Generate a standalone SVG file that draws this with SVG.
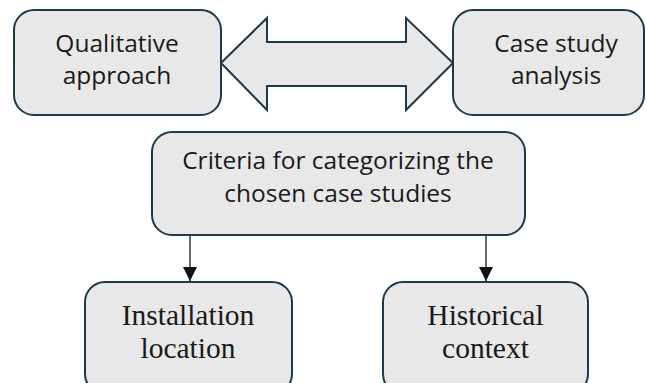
<svg xmlns="http://www.w3.org/2000/svg" width="646" height="383" viewBox="0 0 646 383">
<defs>
<style>
.box{fill:#e8e8e8;stroke:#1c3a4c;stroke-width:2}
.sans{font-family:"Open Sans","Liberation Sans",sans-serif;font-size:24.5px;fill:#1a1a1a;text-anchor:middle}
.serif{font-family:"Liberation Serif","Times New Roman",serif;font-size:29.5px;fill:#1a1a1a;text-anchor:middle}
.conn{stroke:#1a1a1a;stroke-width:1.3;fill:none}
</style>
<marker id="ah" viewBox="0 0 10 10" refX="10" refY="5" markerWidth="14" markerHeight="14" markerUnits="userSpaceOnUse" orient="auto">
<path d="M0,0 L10,5 L0,10 Z" fill="#111"/>
</marker>
</defs>
<rect width="646" height="383" fill="#ffffff"/>
<g id="qualitative">
<rect class="box" x="14" y="10" width="207" height="105" rx="20"/>
<text class="sans" x="117" y="52">Qualitative</text>
<text class="sans" x="117" y="84">approach</text>
</g>
<g id="double-arrow">
<polygon class="box" points="221,63 267,18 267,42 406,42 406,18 453,63 406,110 406,86 267,86 267,110"/>
</g>
<g id="case-study">
<rect class="box" x="453" y="10" width="191" height="105" rx="20"/>
<text class="sans" x="556" y="52">Case study</text>
<text class="sans" x="556" y="84">analysis</text>
</g>
<g id="criteria">
<rect class="box" x="152" y="132" width="373" height="103" rx="20"/>
<text class="sans" x="338" y="169">Criteria for categorizing the</text>
<text class="sans" x="338" y="202">chosen case studies</text>
</g>
<g id="installation">
<rect class="box" x="85" y="282" width="207" height="112" rx="20"/>
<text class="serif" x="188" y="325">Installation</text>
<text class="serif" x="188" y="358">location</text>
</g>
<g id="historical">
<rect class="box" x="383" y="282" width="205" height="112" rx="20"/>
<text class="serif" x="485.5" y="325">Historical</text>
<text class="serif" x="485.5" y="358">context</text>
</g>
<g id="connectors">
<line class="conn" x1="190" y1="236" x2="190" y2="281" marker-end="url(#ah)"/>
<line class="conn" x1="486" y1="236" x2="486" y2="281" marker-end="url(#ah)"/>
</g>
</svg>
